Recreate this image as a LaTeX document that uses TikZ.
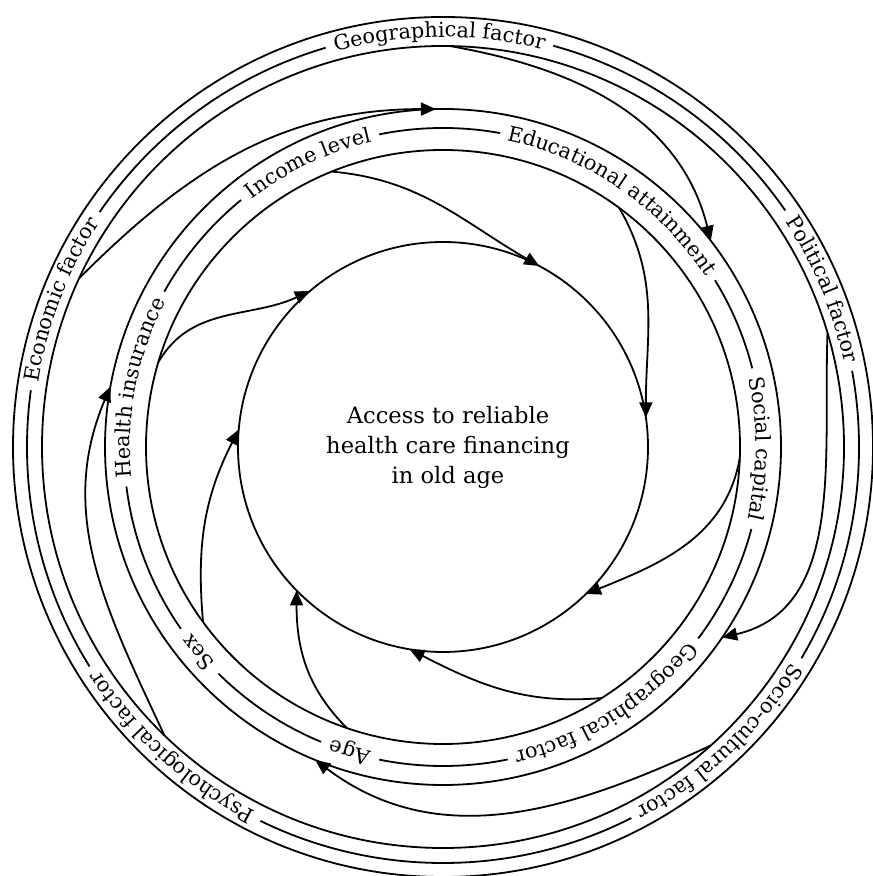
\documentclass[tikz,border=0pt]{standalone}
\usepackage{fontspec}
\setmainfont{DejaVu Serif}
\usetikzlibrary{arrows.meta,calc}
\newdimen\chw
\newdimen\lblw
\newcommand\ringfont{\fontsize{10.4}{12}\selectfont}
\ExplSyntaxOn
\cs_new_protected:Npn \maptext #1 #2 { \tl_map_inline:nn {#2} { #1 {##1} } }
\ExplSyntaxOff
\newcommand\measurechar[1]{%
  \pgfinterruptpicture\settowidth\chw{\ringfont #1}\global\chw=\chw\endpgfinterruptpicture}
\newcommand\addw[1]{\measurechar{#1}\global\advance\lblw by \chw}
\newcommand\placechar[1]{%
  \measurechar{#1}%
  \pgfmathsetmacro\chmid{\curang - 57.29578*\chw/\lblr}%
  \node[rotate=\chmid-90,anchor=base,inner sep=0pt,font=\ringfont] at ($(C)+(\chmid:\lblr)$) {#1};
  \pgfmathsetmacro\tmpang{\curang - 114.59156*\chw/\lblr}%
  \xdef\curang{\tmpang}%
}
\newcommand\ringlabel[3]{%
  \global\lblw=0pt
  \maptext\addw{#3}%
  \pgfmathsetmacro\lblr{#1-6}%
  \pgfmathsetmacro\lblha{57.29578*(\lblw+10)/#1}%
  \pgfmathsetmacro\lblsa{#2+\lblha}%
  \pgfmathsetmacro\lblea{#2-\lblha}%
  \draw[white,line width=3pt] ($(C)+(\lblsa:#1)$) arc[start angle=\lblsa,end angle=\lblea,radius=#1];
  \pgfmathsetmacro\tmpang{#2+57.29578*\lblw/\lblr}%
  \xdef\curang{\tmpang}%
  \maptext\placechar{#3}%
}
\begin{document}
\begin{tikzpicture}[x=0.5pt,y=0.5pt,
  ring/.style={line width=0.9pt},
  conn/.style={line width=0.9pt,-{Triangle[length=7.5pt,width=6.5pt]}}]
\useasboundingbox (0,0) rectangle (872,876);
\fill[white] (0,0) rectangle (872,876);
\coordinate (C) at (443,429);
% circles
\foreach \rr in {205,297,319,338,401,416,430}
  \draw[ring] (C) circle[radius=\rr];
% outer band labels
\ringlabel{416}{90.5}{Geographical~factor}
\ringlabel{416}{22.6}{Political~factor}
\ringlabel{416}{-46.8}{Socio-cultural~factor}
\ringlabel{416}{227.9}{Psychological~factor}
\ringlabel{416}{158.9}{Economic~factor}
% middle band labels
\ringlabel{319}{115.4}{Income~level}
\ringlabel{319}{55.6}{Educational~attainment}
\ringlabel{319}{-0.3}{Social~capital}
\ringlabel{319}{-57.6}{Geographical~factor}
\ringlabel{319}{253}{Age}
\ringlabel{319}{220}{Sex}
\ringlabel{319}{169}{Health~insurance}
% centre
\node[font=\fontsize{11.3}{15}\selectfont,align=center] (title) at ($(C)+(5,0)$)
  {Access to reliable\\health care financing\\in old age};
% middle-band connectors
\coordinate (hiS) at ($(C)+(163.4:297)$); \coordinate (hiT) at ($(C)+(130.5:205)$);
\coordinate (ilS) at ($(C)+(112:297)$);   \coordinate (ilT) at ($(C)+(62:205)$);
\coordinate (eaS) at ($(C)+(53.6:297)$);  \coordinate (eaT) at ($(C)+(8.3:205)$);
\coordinate (scS) at ($(C)+(-2.1:297)$);  \coordinate (scT) at ($(C)+(-45.8:205)$);
\coordinate (gmS) at ($(C)+(-57.7:297)$); \coordinate (gmT) at ($(C)+(-99.4:205)$);
\coordinate (agS) at ($(C)+(-108.9:297)$);\coordinate (agT) at ($(C)+(-135.6:205)$);
\coordinate (sxS) at ($(C)+(216.1:297)$); \coordinate (sxT) at ($(C)+(175.1:205)$);
\draw[conn] (hiS) to[out=60,in=205] (hiT);
\draw[conn] (ilS) to[out=-5,in=150] (ilT);
\draw[conn] (eaS) to[out=-60,in=90] (eaT);
\draw[conn] (scS) to[out=-100,in=22] (scT);
\draw[conn] (gmS) to[out=185,in=-27] (gmT);
\draw[conn] (agS) to[out=135,in=-90] (agT);
\draw[conn] (sxS) to[out=95,in=243] (sxT);
% outer-band connectors
\coordinate (efS) at ($(C)+(155.1:401)$); \coordinate (efT) at ($(C)+(91.2:338)$);
\coordinate (gfS) at ($(C)+(89:401)$);    \coordinate (gfT) at ($(C)+(37.6:338)$);
\coordinate (pfS) at ($(C)+(16.5:401)$);  \coordinate (pfT) at ($(C)+(-34.3:338)$);
\coordinate (scfS) at ($(C)+(-48.1:401)$);\coordinate (scfT) at ($(C)+(-112.2:338)$);
\coordinate (psS) at ($(C)+(226:401)$);   \coordinate (psT) at ($(C)+(169.7:338)$);
\draw[conn] (efS) to[out=45,in=180] (efT);
\draw[conn] (gfS) to[out=-10,in=104] (gfT);
\draw[conn] (pfS) to[out=-92,in=13] (pfT);
\draw[conn] (scfS) to[out=205,in=-37] (scfT);
\draw[conn] (psS) to[out=115,in=247] (psT);
\end{tikzpicture}
\end{document}
